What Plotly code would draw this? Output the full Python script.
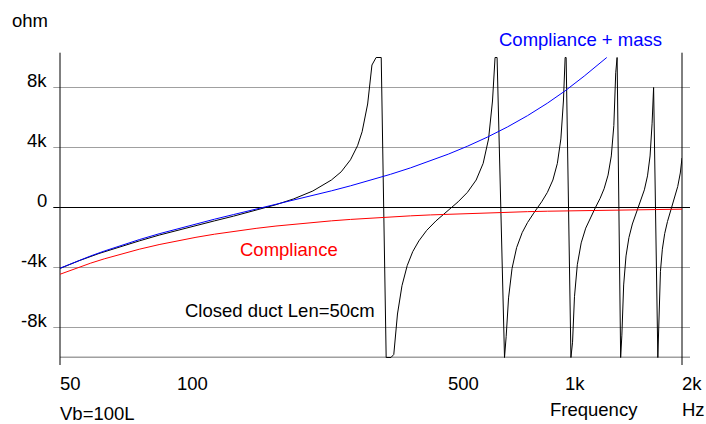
import math
import plotly.graph_objects as go

# ---- reactance data (ohm) -------------------------------------------------
# closed duct, L = 50 cm (values limited to +/-10k by the simulator)
freq_duct = [50, 56, 63, 71, 80, 90, 100, 112, 125, 140, 160, 180, 200, 224, 250,
             265, 280, 292, 300, 310, 318, 326, 336,
             346, 356, 362, 370, 380, 392, 405, 420, 440, 465, 490, 510, 530, 560,
             590, 615, 635, 650, 660, 668,
             698, 705, 715, 730, 750, 775, 800, 830, 850, 870, 900, 930, 955, 975,
             990, 1000, 1006,
             1035, 1045, 1057, 1075, 1100, 1130, 1160, 1197, 1230, 1260, 1290, 1315,
             1335, 1350, 1361,
             1390, 1400, 1415, 1435, 1460, 1490, 1520, 1543, 1570, 1600, 1630, 1655,
             1675, 1690,
             1733, 1745, 1760, 1780, 1805, 1835, 1860, 1882, 1910, 1950, 1980, 2000]
react_duct = [-4060, -3545, -3066, -2630, -2228, -1841, -1524, -1199, -891, -575, -187, 187, 575, 1101, 1831,
              2380, 3180, 4120, 5050, 6900, 9500, 10000, 10000,
              -10000, -10000, -9797, -7100, -5214, -3870, -2943, -2228, -1524, -891, -377, 0, 378, 1005,
              1831, 2943, 4571, 7100, 10000, 10000,
              -10000, -8589, -6026, -4059, -2674, -1680, -1006, -377, 0, 378, 1005, 1831, 2943, 4571,
              7100, 10000, 10000,
              -10000, -8981, -5947, -3814, -2359, -1375, -695, 0, 598, 1247, 2159, 3438,
              5462, 8981, 10000,
              -10000, -8510, -5163, -3228, -1999, -1099, -450, 0, 510, 1178, 2107, 3436,
              5620, 8000,
              -10000, -6417, -4252, -2780, -1741, -937, -410, 0, 534, 1400, 2300, 3300]

# lumped models: compliance alone, compliance + mass
freq_lumped = [50, 55, 60, 65, 70, 80, 90, 100, 112, 125, 140, 160, 180, 200, 225, 250,
               280, 315, 355, 400, 450, 500, 560, 630, 710, 800, 900, 1000, 1120, 1250,
               1280, 1600, 2000]
react_compliance = [-4450, -4045, -3708, -3423, -3179, -2781, -2472, -2225, -1987, -1780, -1589,
                    -1391, -1236, -1113, -989, -890, -795, -706, -627, -556, -494, -445, -397,
                    -353, -313, -278, -247, -223, -199, -178, -174, -139, -111]
react_compl_mass = [-4050, -3605, -3228, -2903, -2619, -2141, -1752, -1425, -1091, -780, -469,
                    -111, 204, 487, 811, 1110, 1445, 1814, 2213, 2644, 3106, 3555, 4083,
                    4687, 5367, 6122, 6953, 7777, 8761, 9822, 10000]
freq_compl_mass = freq_lumped[:len(react_compl_mass)]

# ---- axes / grid definitions ------------------------------------------------
x_ticks = [50, 100, 500, 1000, 2000]
x_tick_text = ["50", "100", "500", "1k", "2k"]
y_ticks = [-8000, -4000, 0, 4000, 8000]
y_tick_text = ["-8k", "-4k", "0", "4k", "8k"]
grid_dark = [100, 1000]
grid_light = [200, 300, 400, 500]
x_min, x_max = 50, 2000
y_limit = 10000

# ---- figure geometry -------------------------------------------------------
W, H = 706, 424
ML, MR, MT, MB = 60, 24, 57, 66
PW, PH = W - ML - MR, H - MT - MB
YMIN, YMAX = -10033, 10033

GRAY = "#a0a0a0"
FONT = "Liberation Sans, Arial, Helvetica, sans-serif"
FS = 18.5
MID = 0.3465 * FS  # baseline offset from the text box centre


def yfrac(v):
    return (v - YMIN) / (YMAX - YMIN)


def px_x(p):
    return (p - ML) / PW


def px_y(p):
    return (H - MB - p) / PH


fig = go.Figure()
fig.add_trace(go.Scatter(x=freq_duct, y=react_duct, mode="lines",
                         line=dict(color="black", width=1), hoverinfo="skip"))
fig.add_trace(go.Scatter(x=freq_compl_mass, y=react_compl_mass, mode="lines",
                         line=dict(color="#0000ff", width=1), hoverinfo="skip"))
fig.add_trace(go.Scatter(x=freq_lumped, y=react_compliance, mode="lines",
                         line=dict(color="#ff0000", width=1), hoverinfo="skip"))

shapes = []
tick_len = 7 / PH
# horizontal grid lines, running slightly past both axes
for v in y_ticks:
    shapes.append(dict(type="line", xref="paper", yref="y",
                       x0=px_x(53.3), x1=px_x(690), y0=v, y1=v, layer="below",
                       line=dict(color="black" if v == 0 else GRAY, width=1)))
# lower boundary at -10k
shapes.append(dict(type="line", xref="paper", yref="y", x0=0, x1=px_x(690),
                   y0=-y_limit, y1=-y_limit, layer="below",
                   line=dict(color=GRAY, width=2)))
# vertical grid lines
for f in grid_dark + grid_light:
    below = -tick_len if f in x_ticks else yfrac(-y_limit)
    shapes.append(dict(type="line", xref="x", yref="paper",
                       x0=math.log10(f), x1=math.log10(f),
                       y0=below, y1=yfrac(y_limit), layer="below",
                       line=dict(color="black" if f in grid_dark else GRAY, width=1)))
# left and right frame lines
for xp in (0, 1):
    shapes.append(dict(type="line", xref="paper", yref="paper", x0=xp, x1=xp,
                       y0=-tick_len, y1=px_y(52.7), layer="below",
                       line=dict(color="black", width=1)))

ann = []
base = dict(showarrow=False, borderpad=0, borderwidth=0,
            font=dict(family=FONT, size=FS, color="black"))
for v, t in zip(y_ticks, y_tick_text):
    ann.append(dict(base, text=t, xref="paper", x=px_x(47), xanchor="right",
                    yref="y", y=v, yanchor="middle", yshift=MID + 0.3))
for f, t in zip(x_ticks, x_tick_text):
    ann.append(dict(base, text=t, xref="x", x=math.log10(f), xanchor="left",
                    yref="y", y=-y_limit, yanchor="middle", yshift=-(390 - 357.5 - MID)))


def label(text, xpx, baseline, color="black"):
    d = dict(base, text=text, xref="paper", yref="paper", x=px_x(xpx),
             y=px_y(baseline - MID), xanchor="left", yanchor="middle")
    d["font"] = dict(family=FONT, size=FS, color=color)
    return d


ann += [
    label("ohm", 12, 26.7),
    label("Compliance + mass", 499, 46, "#0000ff"),
    label("Compliance", 239.5, 256, "#ff0000"),
    label("Closed duct Len=50cm", 184.5, 316.5),
    label("Vb=100L", 59.5, 419.5),
    label("Frequency", 549.5, 416),
    label("Hz", 682, 416),
]

fig.update_layout(
    width=W, height=H,
    margin=dict(l=ML, r=MR, t=MT, b=MB, pad=0),
    paper_bgcolor="white", plot_bgcolor="white",
    showlegend=False, hovermode=False,
    shapes=shapes, annotations=ann,
    font=dict(family=FONT, size=FS, color="black"),
    xaxis=dict(type="log", range=[math.log10(x_min), math.log10(x_max)],
               showgrid=False, zeroline=False, showline=False,
               showticklabels=False, ticks=""),
    yaxis=dict(range=[YMIN, YMAX], showgrid=False, zeroline=False,
               showline=False, showticklabels=False, ticks=""),
)

fig.write_html("out.html")
